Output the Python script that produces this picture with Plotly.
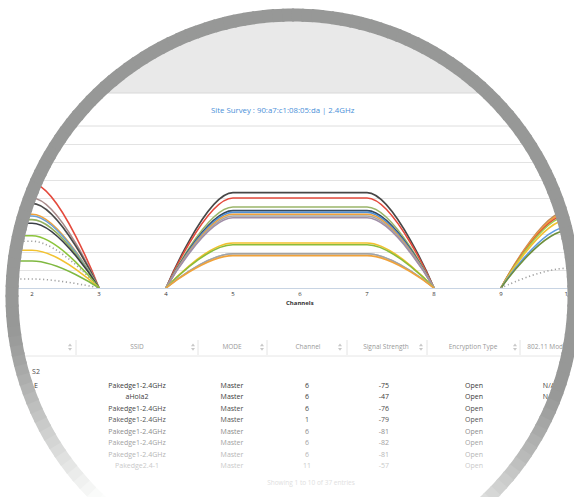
import math
import plotly.graph_objects as go

W, H = 574, 497

# ---------------- data ----------------
chart_title = "Site Survey : 90:a7:c1:08:05:da | 2.4GHz"
x_axis_title = "Channels"
channel_ticks = [1, 2, 3, 4, 5, 6, 7, 8, 9, 10, 11]

# networks heard on each channel (signal strength, dBm)
ch1_channel = 1
ch1_signals = [-42, -50, -53, -59, -60, -62, -64, -71, -74, -79, -85, -95]
ch6_channel = 6
ch6_signals = [-47, -50, -55, -57, -58, -59, -60, -61, -75, -76, -81, -81, -82]
ch11_channel = 11
ch11_signals = [-57, -58, -59, -60, -62, -66, -68, -89]
floor_dbm = -100

# table
table_headers = ["", "SSID", "MODE", "Channel", "Signal Strength", "Encryption Type", "802.11 Mode"]
col_security = ["S2", "E", "", "", "", "", "", "", ""]
col_ssid = ["", "Pakedge1-2.4GHz", "aHola2", "Pakedge1-2.4GHz", "Pakedge1-2.4GHz",
            "Pakedge1-2.4GHz", "Pakedge1-2.4GHz", "Pakedge1-2.4GHz", "Pakedge2.4-1"]
col_mode = ["", "Master", "Master", "Master", "Master", "Master", "Master", "Master", "Master"]
col_channel = ["", "6", "6", "6", "1", "6", "6", "6", "11"]
col_signal = ["", "-75", "-47", "-76", "-79", "-81", "-82", "-81", "-57"]
col_enc = ["", "Open", "Open", "Open", "Open", "Open", "Open", "Open", "Open"]
col_80211 = ["", "N/A", "N/A", "", "", "", "", "", ""]
footer_text = "Showing 1 to 10 of 37 entries"

# ---------------- styles ----------------
DOT = "1.2px,2.6px"
ch1_colors = ['#e4493c', '#a98b8b', '#4a4a4a', '#f0a23a', '#6aa0d8', '#93b05f', '#3b3f46',
              '#8cc43c', '#a0a0a0', '#f2c230', '#7fb840', '#a0a0a0']
ch1_dash = ['solid'] * 8 + [DOT, 'solid', 'solid', DOT]
ch6_colors = ['#474747', '#e4493c', '#9ab56a', '#34495e', '#4f8fd6', '#f0a23a', '#a5a5a5',
              '#a08ea8', '#f2c12e', '#8bbc3a', '#9fb3d3', '#a3a3a3', '#f0a23a']
ch6_dash = ['solid'] * 13
ch11_colors = ['#c08a5a', '#f0a23a', '#e4493c', '#9ccc50', '#f2c230', '#5d9be0', '#6f8f3c', '#a0a0a0']
ch11_dash = ['solid'] * 7 + [DOT]

PX_PER_CH = 67.0
X_AT_CH2 = 32.0
BASE_PX, TOP_PX = 288.0, 126.0

fig = go.Figure()

# ---------------- table as text on a pixel overlay axis ----------------
col_x = [36, 137, 232, 307, 384, 474, 549]
row_y = [372] + [386 + 11.5 * i for i in range(8)]
row_colors = ['#4a4a4a', '#3a3a3a', '#3a3a3a', '#4a4a4a', '#555555', '#8c8c8c', '#a2a2a2', '#b6b6b6', '#cacaca']
TFONT = "Open Sans"
for cx_, col in zip(col_x, [col_security, col_ssid, col_mode, col_channel, col_signal, col_enc, col_80211]):
    fig.add_trace(go.Scatter(x=[cx_] * len(col), y=row_y, text=col, mode="text",
                             textfont=dict(family=TFONT, size=7, color=row_colors),
                             xaxis="x2", yaxis="y2", hoverinfo="skip", showlegend=False))

head_x = [20, 137, 232, 308, 386, 473, 547]
fig.add_trace(go.Scatter(x=head_x, y=[347] * len(head_x), text=table_headers, mode="text",
                         textfont=dict(family=TFONT, size=6.5, color="#999999"),
                         xaxis="x2", yaxis="y2", hoverinfo="skip", showlegend=False))
icon_x = [70, 193, 262, 340, 421, 515]
fig.add_trace(go.Scatter(x=icon_x, y=[345.3] * 6, mode="markers",
                         marker=dict(symbol="triangle-up", size=3.5, color="#c8c8c8"),
                         xaxis="x2", yaxis="y2", hoverinfo="skip", showlegend=False))
fig.add_trace(go.Scatter(x=icon_x, y=[349.0] * 6, mode="markers",
                         marker=dict(symbol="triangle-down", size=3.5, color="#c8c8c8"),
                         xaxis="x2", yaxis="y2", hoverinfo="skip", showlegend=False))
fig.add_trace(go.Scatter(x=[311], y=[483], text=[footer_text], mode="text",
                         textfont=dict(family=TFONT, size=6.5, color="#e0e0e0"),
                         xaxis="x2", yaxis="y2", hoverinfo="skip", showlegend=False))

shapes = []

def pyp(py):
    return 1 - py / H

# header band and separators (paper, below)
shapes.append(dict(type="rect", xref="paper", yref="paper", x0=0, x1=1, y0=pyp(93), y1=1,
                   fillcolor="#e9e9e9", line=dict(width=0), layer="below"))
for py, col in [(93, "#d8d8d8"), (126, "#dedede"), (356, "#e6e6e6")]:
    shapes.append(dict(type="line", xref="paper", yref="paper", x0=0, x1=1, y0=pyp(py), y1=pyp(py),
                       line=dict(color=col, width=1), layer="below"))
for sx in [76, 198, 267, 347, 427, 520]:
    shapes.append(dict(type="line", xref="paper", yref="paper", x0=sx / W, x1=sx / W,
                       y0=pyp(340), y1=pyp(355), line=dict(color="#e4e4e4", width=1), layer="below"))

# signal curves: Highcharts-style spline through (c-2,floor),(c-1,s),(c,s),(c+1,s),(c+2,floor)
def curve_path(c, s):
    f = floor_dbm
    return (f"M {c-2},{f} C {c-2},{f} {c-1.4},{s} {c-1},{s} "
            f"L {c+1},{s} C {c+1.4},{s} {c+2},{f} {c+2},{f}")

for c, sigs, cols, dashes in [(ch1_channel, ch1_signals, ch1_colors, ch1_dash),
                              (ch6_channel, ch6_signals, ch6_colors, ch6_dash),
                              (ch11_channel, ch11_signals, ch11_colors, ch11_dash)]:
    for s, colr, d in zip(sigs, cols, dashes):
        shapes.append(dict(type="path", xref="x", yref="y", path=curve_path(c, s),
                           line=dict(color=colr, width=1.6, dash=d), layer="above"))

# magnifier: white mask outside circle + gradient ring
CX, CY, R_OUT, RING = 293.0, 296.0, 287.5, 13.0
R_IN = R_OUT - RING
pts = []
N = 240
for k in range(N):
    a = 2 * math.pi * k / N
    pts.append(f"{CX + (R_OUT - 0.5) * math.cos(a):.2f},{CY + (R_OUT - 0.5) * math.sin(a):.2f}")
mask_path = "M -200,-200 L 800,-200 L 800,800 L -200,800 Z M " + " L ".join(pts) + " Z"
shapes.append(dict(type="path", xref="x2", yref="y2", path=mask_path, fillcolor="white",
                   line=dict(width=0), layer="above", fillrule="evenodd"))

def ring_gray(x, y):
    u = (y - 300) + 0.118 * (CX - x)
    if u <= 60:
        return 151
    t = min(1.0, (u - 60) / 160.0)
    return int(round(151 + (252 - 151) * t ** 1.3))

NS = 180
for k in range(NS):
    a0 = 2 * math.pi * k / NS - 0.004
    a1 = 2 * math.pi * (k + 1) / NS + 0.004
    am = (a0 + a1) / 2
    rm = R_IN + RING / 2
    xm, ym = CX + rm * math.cos(am), CY + rm * math.sin(am)
    if ym > H + 20:
        continue
    g = ring_gray(xm, ym)
    col = f"rgb({g},{min(255, g + 1)},{g})"
    outer = [(CX + R_OUT * math.cos(a), CY + R_OUT * math.sin(a)) for a in (a0, am, a1)]
    inner = [(CX + R_IN * math.cos(a), CY + R_IN * math.sin(a)) for a in (a1, am, a0)]
    p = "M " + " L ".join(f"{x:.2f},{y:.2f}" for x, y in outer + inner) + " Z"
    shapes.append(dict(type="path", xref="x2", yref="y2", path=p, fillcolor=col,
                       line=dict(width=0), layer="above"))

x_lo = 2 - X_AT_CH2 / PX_PER_CH
x_hi = 2 + (W - X_AT_CH2) / PX_PER_CH

fig.update_layout(
    template="none",
    width=W, height=H,
    margin=dict(l=0, r=0, t=0, b=0, pad=0),
    paper_bgcolor="white", plot_bgcolor="rgba(0,0,0,0)",
    showlegend=False,
    xaxis=dict(domain=[0, 1], range=[x_lo, x_hi], tickvals=channel_ticks, ticks="",
               showgrid=False, zeroline=False, showline=True, linecolor="#c8d4e3", linewidth=1,
               tickfont=dict(family="Open Sans", size=6, color="#333333"), anchor="y", fixedrange=True),
    yaxis=dict(domain=[pyp(BASE_PX), pyp(TOP_PX)], range=[floor_dbm, -10], dtick=10, tick0=0,
               showgrid=True, gridcolor="#e3e3e3", gridwidth=1, zeroline=False, showline=False,
               showticklabels=False, ticks="", anchor="x", fixedrange=True),
    xaxis2=dict(domain=[0, 1], range=[0, W], visible=False, anchor="y2", fixedrange=True),
    yaxis2=dict(domain=[0, 1], range=[H, 0], visible=False, anchor="x2", fixedrange=True),
    shapes=shapes,
    annotations=[
        dict(x=283, y=110, xref="x2", yref="y2", text=chart_title, showarrow=False,
             font=dict(family="Open Sans", size=7.8, color="#4a8fd8")),
        dict(x=300, y=303, xref="x2", yref="y2", text="<b>" + x_axis_title + "</b>", showarrow=False,
             font=dict(family="Open Sans", size=6, color="#333333")),
    ],
)

fig.write_html("out.html", config={"displayModeBar": False, "staticPlot": True},
               post_script="document.body.style.margin='0px';")
